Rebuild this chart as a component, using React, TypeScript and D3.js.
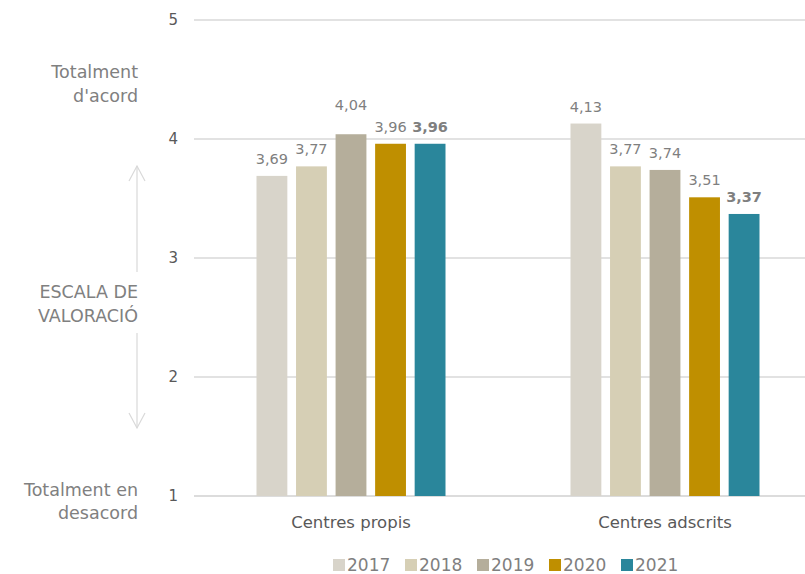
import React from "react";
import * as d3 from "d3";

const categories = ["Centres propis", "Centres adscrits"];
const years = ["2017", "2018", "2019", "2020", "2021"];
const values2017 = [3.69, 4.13];
const values2018 = [3.77, 3.77];
const values2019 = [4.04, 3.74];
const values2020 = [3.96, 3.51];
const values2021 = [3.96, 3.37];
const yTicks = [1, 2, 3, 4, 5];
const colors = ["#d8d4ca", "#d6cfb5", "#b5ae9b", "#bf8f00", "#2a869b"];
const boldYears = ["2021"];

const seriesValues = [values2017, values2018, values2019, values2020, values2021];

const W = 805;
const H = 574;
const FONT = "'DejaVu Sans', sans-serif";

export default function App() {
  const y = d3.scaleLinear().domain([1, 5]).range([496, 20]);
  const x0 = d3.scaleBand().domain(categories).range([194, 822]).paddingInner(0).paddingOuter(0);
  const groupW = 189;
  const x1 = d3.scaleBand().domain(years).range([0, groupW]).paddingInner(0.22).paddingOuter(0);
  const fmt = (v: number) => v.toFixed(2).replace(".", ",");

  return (
    <svg width={W} height={H} style={{ position: "absolute", left: 0, top: 0, display: "block" }} fontFamily={FONT}>
      {/* gridlines */}
      {yTicks.map((t) => (
        <g key={t}>
          <line x1={194} x2={W} y1={y(t)} y2={y(t)} stroke={t === 1 ? "#d0d0d0" : "#d9d9d9"} strokeWidth={1.3} />
          <text x={178} y={y(t)} dy="0.35em" textAnchor="end" fontSize={15} fill="#595959">
            {t}
          </text>
        </g>
      ))}
      {/* bars */}
      {categories.map((c, ci) => {
        const gx = (x0(c) as number) + (x0.bandwidth() - groupW) / 2;
        return (
          <g key={c}>
            {years.map((yr, si) => {
              const v = seriesValues[si][ci];
              const bx = gx + (x1(yr) as number);
              const bw = x1.bandwidth();
              const top = y(v);
              const lift = v - Math.floor(v) < 0.1 ? 12 : 0;
              return (
                <g key={yr}>
                  <rect x={bx} y={top} width={bw} height={y(1) - top} fill={colors[si]} />
                  <text
                    x={bx + bw / 2}
                    y={top - 12 - lift}
                    textAnchor="middle"
                    fontSize={14.5}
                    fontWeight={boldYears.includes(yr) ? "bold" : "normal"}
                    fill="#7f7f7f"
                  >
                    {fmt(v)}
                  </text>
                </g>
              );
            })}
            <text x={(x0(c) as number) + x0.bandwidth() / 2} y={528} textAnchor="middle" fontSize={16.5} fill="#595959">
              {c}
            </text>
          </g>
        );
      })}
      {/* left annotations */}
      <g fontSize={17.5} fill="#808080" textAnchor="end">
        <text x={138} y={78}>Totalment</text>
        <text x={138} y={102}>d'acord</text>
        <text x={138} y={298}>ESCALA DE</text>
        <text x={138} y={322}>VALORACIÓ</text>
        <text x={138} y={496}>Totalment en</text>
        <text x={138} y={519}>desacord</text>
      </g>
      {/* arrows */}
      <g stroke="#d9d9d9" strokeWidth={1.2} fill="none">
        <line x1={137} x2={137} y1={166} y2={272} />
        <polyline points="129,181 137,166 145,181" />
        <line x1={137} x2={137} y1={333} y2={428} />
        <polyline points="129,413 137,428 145,413" />
      </g>
      {/* legend */}
      {years.map((yr, i) => {
        const lx = 333 + i * 72;
        return (
          <g key={yr}>
            <rect x={lx} y={559} width={12} height={12} fill={colors[i]} />
            <text x={lx + 14} y={565} dy="0.35em" fontSize={17} fill="#7f7f7f">
              {yr}
            </text>
          </g>
        );
      })}
    </svg>
  );
}
